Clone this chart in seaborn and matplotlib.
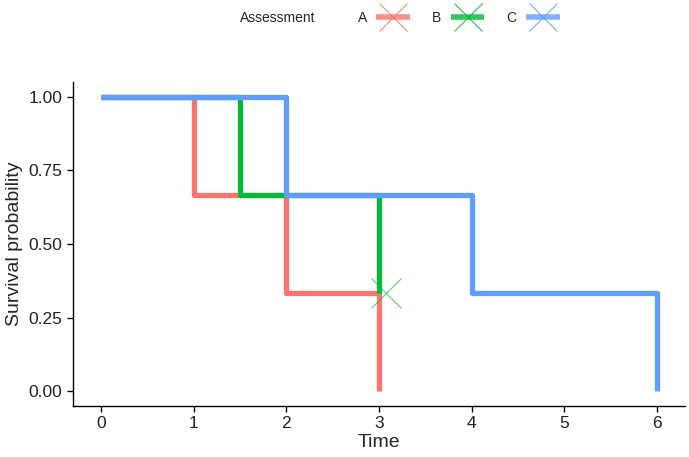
import numpy as np
import pandas as pd
import matplotlib
matplotlib.use('Agg')
import matplotlib.pyplot as plt
from matplotlib.lines import Line2D
import seaborn as sns

# Kaplan-Meier step data per assessment group
groups = ['A', 'B', 'C']
time_a = [0, 1, 2, 3]
surv_a = [1.0, 0.667, 0.333, 0.0]
time_b = [0, 1.5, 3]
surv_b = [1.0, 0.667, 0.333]
time_c = [0, 2, 4, 6]
surv_c = [1.0, 0.667, 0.333, 0.0]

# censored observations
censor_group = ['B']
censor_time = [3.08]
censor_surv = [0.333]

colors = {'A': '#F8766D', 'B': '#00BA38', 'C': '#619CFF'}

df = pd.concat([
    pd.DataFrame({'time': time_a, 'surv': surv_a, 'Assessment': 'A'}),
    pd.DataFrame({'time': time_b, 'surv': surv_b, 'Assessment': 'B'}),
    pd.DataFrame({'time': time_c, 'surv': surv_c, 'Assessment': 'C'}),
], ignore_index=True)
cens = pd.DataFrame({'time': censor_time, 'surv': censor_surv, 'Assessment': censor_group})

sns.set_style('ticks')
plt.rcParams['font.family'] = ['Liberation Sans', 'DejaVu Sans']

fig = plt.figure(figsize=(6.89, 4.57), dpi=100)
ax = fig.add_axes([73 / 689, 1 - 406 / 457, 612 / 689, 324 / 457])

sns.lineplot(data=df, x='time', y='surv', hue='Assessment', palette=colors,
             drawstyle='steps-post', linewidth=3.8, legend=False, ax=ax,
             estimator=None, sort=False, solid_capstyle='butt')

for _, r in cens.iterrows():
    ax.plot(r['time'], r['surv'], marker='x', markersize=22, markeredgewidth=0.9,
            color=colors[r['Assessment']], alpha=0.6, linestyle='none')

ax.set_xlim(-0.3, 6.3)
ax.set_ylim(-0.05, 1.05)
ax.set_xticks(range(0, 7))
ax.set_yticks([0, 0.25, 0.5, 0.75, 1.0])
ax.set_yticklabels(['0.00', '0.25', '0.50', '0.75', '1.00'])
ax.tick_params(labelsize=12.5, length=4, width=1, colors='black', labelcolor='#222222')
for s in ['left', 'bottom']:
    ax.spines[s].set_linewidth(1)
    ax.spines[s].set_color('black')
sns.despine(ax=ax)
ax.set_xlabel('Time', fontsize=14, labelpad=2)
ax.set_ylabel('Survival probability', fontsize=14, labelpad=4)

# legend on top
handles = [Line2D([], [], color=colors[g], linewidth=4, marker='x', markersize=20,
                  markeredgewidth=0.9, markeredgecolor=colors[g], alpha=0.8,
                  solid_capstyle='butt') for g in groups]
fig.text(240 / 689, 1 - 18 / 457, 'Assessment', fontsize=10, va='center')
fig.legend(handles, groups, ncol=3, loc='center left', bbox_to_anchor=(345 / 689, 1 - 18 / 457),
           frameon=False, markerfirst=False, fontsize=10, handlelength=2.4,
           columnspacing=1.6, handletextpad=0.7)

fig.savefig('out.png', dpi=100)
